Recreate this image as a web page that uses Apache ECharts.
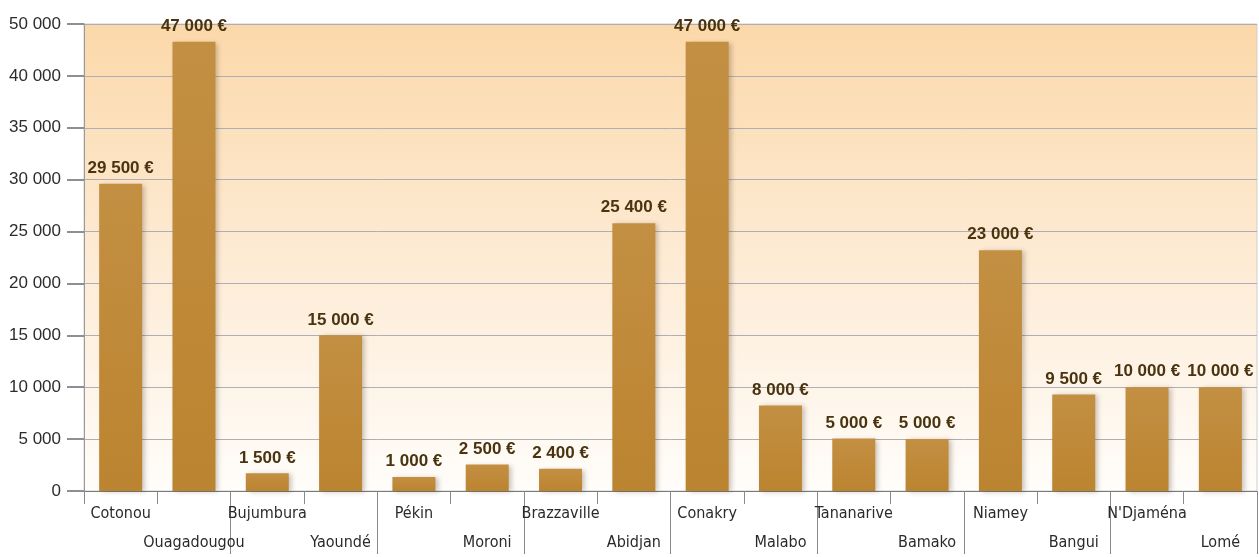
<!doctype html>
<html>
<head>
  <meta charset="UTF-8" />
  <title>Montants par ville</title>
  <script src="https://cdn.jsdelivr.net/npm/echarts@6/dist/echarts.min.js"></script>
  <style>
    html, body { margin: 0; padding: 0; background: #fff; }
    #chart { width: 1259px; height: 557px; }
  </style>
</head>
<body>
  <div id="chart"></div>
  <script>
    // villes, dans l'ordre de l'image
    const cities = ['Cotonou', 'Ouagadougou', 'Bujumbura', 'Yaoundé', 'Pékin', 'Moroni', 'Brazzaville', 'Abidjan',
      'Conakry', 'Malabo', 'Tananarive', 'Bamako', 'Niamey', 'Bangui', "N'Djaména", 'Lomé'];
    // montants affichés au-dessus des barres
    const amounts = [29500, 47000, 1500, 15000, 1000, 2500, 2400, 25400,
      47000, 8000, 5000, 5000, 23000, 9500, 10000, 10000];
    // hauteur des barres telle que dessinée sur l'image
    const barHeights = [29600, 43300, 1700, 15000, 1350, 2550, 2150, 25800,
      43300, 8250, 5050, 5000, 23200, 9300, 10000, 10000];
    // libellés de l'axe vertical (le dernier cran porte "50 000")
    const yTickLabels = ['0', '5 000', '10 000', '15 000', '20 000', '25 000', '30 000', '35 000', '40 000', '50 000'];

    const fmtEuro = v => String(v).replace(/\B(?=(\d{3})+(?!\d))/g, ' ') + ' €';
    const condensed = "'DejaVu Sans Condensed', 'Liberation Sans', sans-serif";

    const chart = echarts.init(document.getElementById('chart'), null, { renderer: 'canvas' });
    const gridLine = '#aeaeb6';

    chart.setOption({
      animation: false,
      textStyle: { fontFamily: "'Liberation Sans', sans-serif" },
      grid: {
        left: 84, right: 2, top: 24, bottom: 63,
        show: true,
        borderColor: '#cfcfcf',
        borderWidth: 1,
        backgroundColor: new echarts.graphic.LinearGradient(0, 0, 0, 1, [
          { offset: 0, color: '#fbd8a9' },
          { offset: 0.45, color: '#fde9d0' },
          { offset: 1, color: '#fffdfa' }
        ])
      },
      xAxis: [{
        type: 'category',
        data: cities,
        boundaryGap: true,
        axisLine: { lineStyle: { color: '#7a7a7a', width: 1 } },
        axisTick: { show: true, length: 13, lineStyle: { color: '#8a8a8a' } },
        axisLabel: {
          interval: 0,
          margin: 8,
          fontFamily: condensed,
          fontSize: 16,
          lineHeight: 29,
          color: '#2a2a2a',
          formatter: (v, i) => (i % 2 === 1 ? '\n' + v : v)
        }
      }, {
        type: 'category',
        data: cities,
        position: 'bottom',
        boundaryGap: true,
        axisLine: { show: false },
        axisLabel: { show: false },
        axisTick: {
          show: true,
          length: 63,
          interval: i => i % 2 === 0 && i > 0,
          lineStyle: { color: '#8a8a8a' }
        }
      }],
      yAxis: {
        type: 'value',
        min: 0,
        max: 45000,
        interval: 5000,
        axisLine: { show: true, lineStyle: { color: '#9a9a9a' } },
        axisTick: { show: true, length: 17, lineStyle: { color: '#8e8e96', width: 2 } },
        splitLine: { lineStyle: { color: gridLine, width: 1 } },
        axisLabel: {
          margin: 23,
          fontSize: 17,
          color: '#2c2c2c',
          formatter: v => yTickLabels[Math.round(v / 5000)]
        }
      },
      series: [{
        type: 'bar',
        data: barHeights,
        barWidth: 43,
        itemStyle: {
          color: new echarts.graphic.LinearGradient(0, 0, 0, 1, [
            { offset: 0, color: '#c38f42' },
            { offset: 1, color: '#bb8430' }
          ]),
          shadowColor: 'rgba(60,40,20,0.28)',
          shadowBlur: 5,
          shadowOffsetX: 3,
          shadowOffsetY: 1
        },
        label: {
          show: true,
          position: 'top',
          distance: 7,
          fontFamily: "'Liberation Sans', sans-serif",
          fontWeight: 'bold',
          fontSize: 17,
          color: '#4a3410',
          formatter: p => fmtEuro(amounts[p.dataIndex])
        }
      }]
    });
    window.addEventListener('resize', () => { chart.resize() });
  </script>
</body>
</html>
